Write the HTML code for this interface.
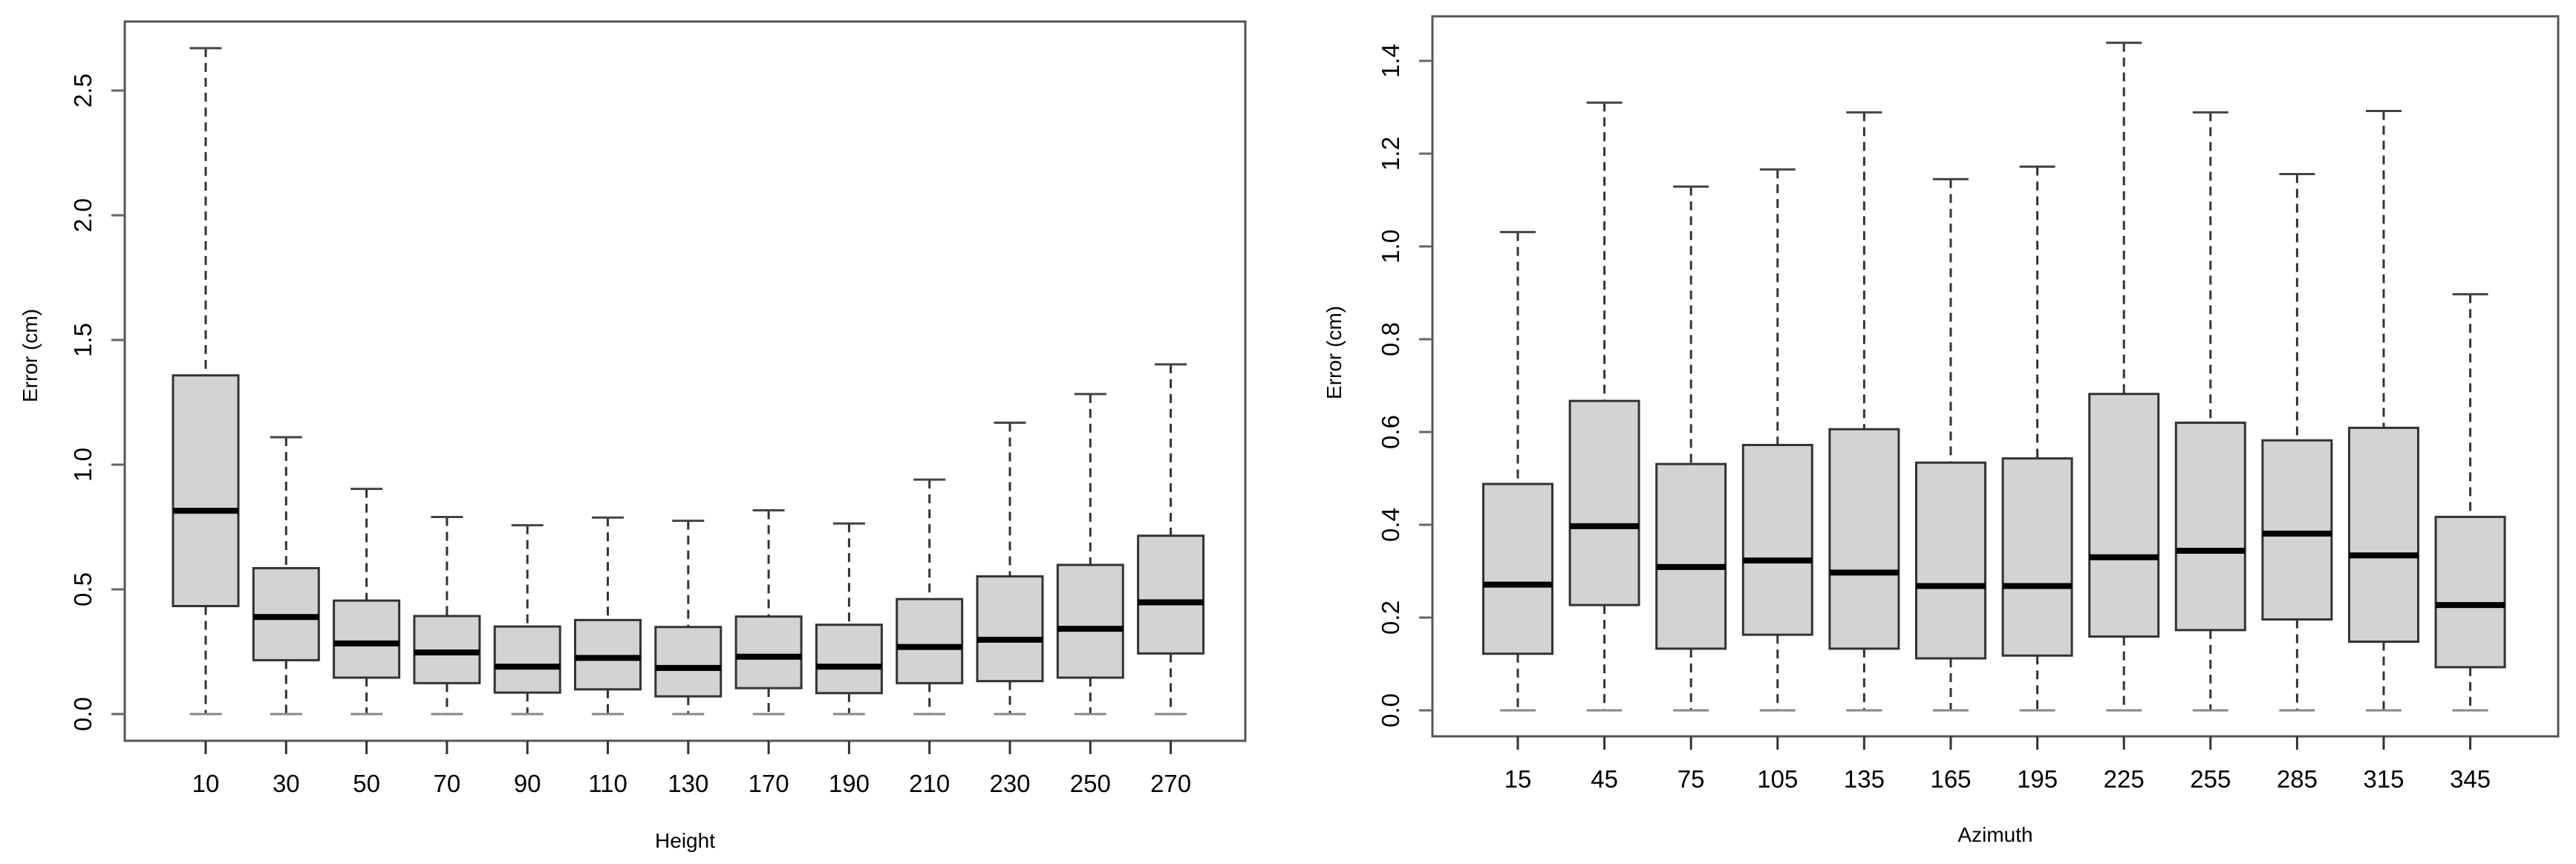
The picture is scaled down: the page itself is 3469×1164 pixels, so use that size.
<!DOCTYPE html>
<html><head><meta charset="utf-8"><style>
html,body{margin:0;padding:0;background:#fff;}
svg{display:block;font-family:"Liberation Sans",Arial,sans-serif;}
</style></head><body>
<svg id="chart" width="3469" height="1164" viewBox="0 0 3469 1164" xmlns="http://www.w3.org/2000/svg"></svg>
<script>
// Left panel data (Height)
const heightCats = ["10","30","50","70","90","110","130","170","190","210","230","250","270"];
const heightMin = [0,0,0,0,0,0,0,0,0,0,0,0,0];
const heightQ1 = [0.433,0.216,0.146,0.124,0.086,0.099,0.071,0.104,0.084,0.124,0.132,0.146,0.243];
const heightMed = [0.815,0.389,0.283,0.247,0.19,0.225,0.185,0.23,0.19,0.269,0.298,0.342,0.448];
const heightQ3 = [1.358,0.585,0.455,0.393,0.351,0.377,0.349,0.391,0.358,0.461,0.552,0.598,0.715];
const heightMax = [2.67,1.11,0.903,0.79,0.757,0.788,0.775,0.817,0.764,0.94,1.168,1.283,1.402];
const heightTicks = ["0.0","0.5","1.0","1.5","2.0","2.5"];
const heightTickVals = [0,0.5,1,1.5,2,2.5];
// Right panel data (Azimuth)
const azCats = ["15","45","75","105","135","165","195","225","255","285","315","345"];
const azMin = [0,0,0,0,0,0,0,0,0,0,0,0];
const azQ1 = [0.122,0.227,0.133,0.163,0.133,0.112,0.118,0.159,0.173,0.196,0.148,0.093];
const azMed = [0.271,0.397,0.309,0.323,0.297,0.268,0.268,0.33,0.344,0.381,0.334,0.227];
const azQ3 = [0.488,0.667,0.531,0.572,0.606,0.534,0.543,0.682,0.62,0.582,0.609,0.417];
const azMax = [1.031,1.31,1.129,1.166,1.289,1.145,1.172,1.439,1.289,1.156,1.292,0.897];
const azTicks = ["0.0","0.2","0.4","0.6","0.8","1.0","1.2","1.4"];
const azTickVals = [0,0.2,0.4,0.6,0.8,1.0,1.2,1.4];

const NS="http://www.w3.org/2000/svg";
const svg=document.getElementById('chart');
function mk(tag,attrs,parent){const e=document.createElementNS(NS,tag);for(const k in attrs)e.setAttribute(k,attrs[k]);(parent||svg).appendChild(e);return e;}

function panel(cfg){
  const g=mk('g',{});
  
  
  const y=v=>cfg.y0-(v)*cfg.ppu;
  const x=i=>cfg.x0+i*cfg.step;
  // frame
  const fr=mk('rect',{x:cfg.L,y:cfg.T,width:cfg.R-cfg.L,height:cfg.B-cfg.T,fill:'none',stroke:'#555','stroke-width':3},g);
  
  
  // y ticks
  cfg.tickVals.forEach((v,i)=>{
    const t=mk('line',{x1:cfg.L-18,x2:cfg.L,y1:y(v),y2:y(v),stroke:'#666','stroke-width':3},g);
    
    
    const tx=mk('text',{x:0,y:0,'font-size':33,'text-anchor':'middle',transform:`translate(${cfg.tickX+11},${y(v)}) rotate(-90)`,fill:'#000'},g);
    tx.textContent=cfg.ticks[i];
    
    
  });
  // boxes
  cfg.cats.forEach((c,i)=>{
    const cx=x(i), bw=cfg.bw, cw=cfg.cw;
    const bg=mk('g',{},g);
    
    
    mk('line',{x1:cx,x2:cx,y1:y(cfg.max[i]),y2:y(cfg.q3[i]),stroke:'#333','stroke-width':3,'stroke-dasharray':'12,8'},bg);
    mk('line',{x1:cx,x2:cx,y1:y(cfg.q1[i]),y2:y(cfg.min[i]),stroke:'#333','stroke-width':3,'stroke-dasharray':'12,8'},bg);
    mk('line',{x1:cx-cw/2,x2:cx+cw/2,y1:y(cfg.max[i]),y2:y(cfg.max[i]),stroke:'#444','stroke-width':3},bg);
    mk('line',{x1:cx-cw/2,x2:cx+cw/2,y1:y(cfg.min[i]),y2:y(cfg.min[i]),stroke:'#888','stroke-width':3},bg);
    mk('rect',{x:cx-bw/2,y:y(cfg.q3[i]),width:bw,height:y(cfg.q1[i])-y(cfg.q3[i]),fill:'#d3d3d3',stroke:'#333','stroke-width':3},bg);
    mk('line',{x1:cx-bw/2,x2:cx+bw/2,y1:y(cfg.med[i]),y2:y(cfg.med[i]),stroke:'#000','stroke-width':8},bg);
    const t=mk('line',{x1:cx,x2:cx,y1:cfg.B,y2:cfg.B+18,stroke:'#333','stroke-width':3},g);
    
    
    const tx=mk('text',{x:cx,y:cfg.labY+12,'font-size':33,'text-anchor':'middle',fill:'#000'},g);
    tx.textContent=c;
    
    
  });
  const xt=mk('text',{x:(cfg.L+cfg.R)/2,y:cfg.xtY+10,'font-size':28,'text-anchor':'middle',fill:'#000'},g);
  xt.textContent=cfg.xtitle;
  
  
  const yt=mk('text',{x:0,y:0,'font-size':28,'text-anchor':'middle',transform:`translate(${cfg.ytX+10},${cfg.ytY}) rotate(-90)`,fill:'#000'},g);
  yt.textContent='Error (cm)';
  
  
}
panel({name:'height-panel',L:168,R:1677,T:29,B:998,y0:962,ppu:336,x0:277,step:108.3,bw:88,cw:43,
  cats:heightCats,min:heightMin,q1:heightQ1,med:heightMed,q3:heightQ3,max:heightMax,
  ticks:heightTicks,tickVals:heightTickVals,tickX:112,labY:1055,xtitle:'Height',xtY:1132,ytX:40,ytY:479});
panel({name:'azimuth-panel',L:1929,R:3445,T:22,B:992,y0:957,ppu:625,x0:2044,step:116.6,bw:93,cw:48,
  cats:azCats,min:azMin,q1:azQ1,med:azMed,q3:azQ3,max:azMax,
  ticks:azTicks,tickVals:azTickVals,tickX:1873,labY:1049,xtitle:'Azimuth',xtY:1124,ytX:1796,ytY:475});
</script>
</body></html>
